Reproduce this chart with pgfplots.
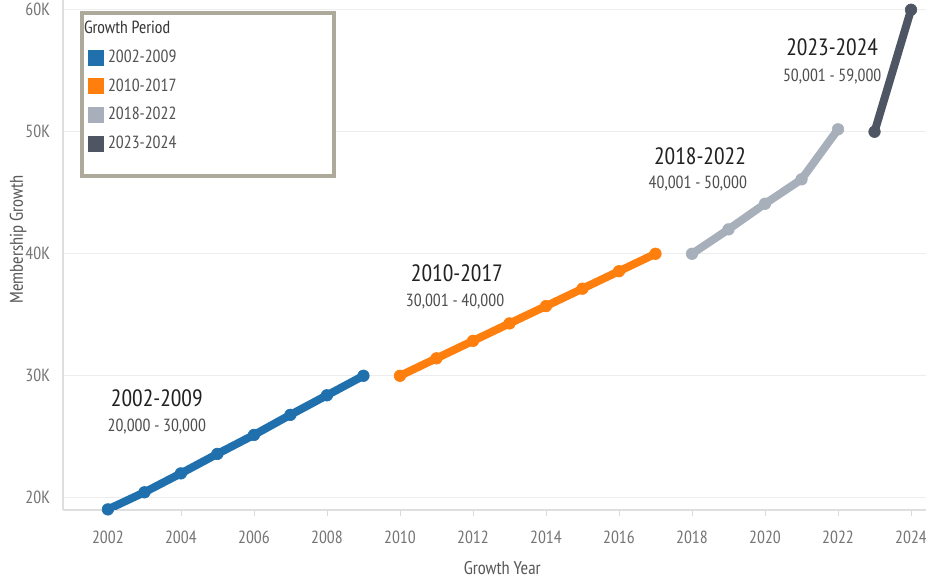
\documentclass[border=0pt]{standalone}
\usepackage{pgfplots}
\pgfplotsset{compat=1.18}
\usepackage{fontspec}
\setmainfont{PT Sans Narrow}

\definecolor{blueP}{HTML}{1F70AD}
\definecolor{orangeP}{HTML}{FF7F0E}
\definecolor{grayP}{HTML}{A7AFBA}
\definecolor{darkP}{HTML}{4E5663}
\definecolor{labelgray}{HTML}{666666}
\definecolor{annot}{HTML}{222222}
\definecolor{legendborder}{HTML}{ADA99B}

\begin{document}
\begin{tikzpicture}
\path[use as bounding box] (-31.5pt,-35.5pt) rectangle (431.5pt,255pt);
\begin{axis}[
    scale only axis,
    width=431.5pt,
    height=255pt,
    xmin=2000.77, xmax=2024.41,
    ymin=19000, ymax=60800,
    axis x line*=bottom,
    axis y line*=left,
    axis line style={draw=gray!25, line width=0.8pt},
    xtick={2002,2004,...,2024},
    xticklabels={2002,2004,2006,2008,2010,2012,2014,2016,2018,2020,2022,2024},
    ytick={20000,30000,40000,50000,60000},
    yticklabels={20K,30K,40K,50K,60K},
    tick label style={font=\fontsize{8.8}{10}\selectfont, text=labelgray!90},
    xticklabel style={yshift=-4pt},
    tick align=outside,
    major tick length=3pt,
    xtick style={draw=gray!30},
    ytick style={draw=none},
    ymajorgrids=true,
    grid style={draw=gray!14, line width=0.6pt},
    xlabel={Growth Year},
    ylabel={Membership Growth},
    label style={font=\fontsize{9.2}{10}\selectfont, text=annot!75},
    xlabel style={at={(axis description cs:0.509,-0.114)}, anchor=center},
    ylabel style={at={(axis description cs:-0.052,0.53)}, anchor=center, rotate=0},
    legend cell align=left,
    legend style={at={(rel axis cs:0.0197,0.978)}, anchor=north west,
        draw=legendborder, line width=2pt, fill=white,
        inner xsep=3pt, inner ysep=2pt, row sep=2.6pt,
        font=\fontsize{8.8}{10}\selectfont, text=labelgray!80!black},
    every axis plot/.append style={line width=4pt, mark=*, mark size=2.9pt,
        mark options={line width=0.3pt}},
]
\addlegendimage{empty legend}
\addlegendentry{\hspace*{-12pt}{\color{annot!90}Growth Period}}

\addplot[blueP,
    legend image code/.code={\path[fill=blueP, draw=none] (0pt,-4pt) rectangle (8pt,4pt);}]
    coordinates {
    (2002,19050) (2003,20450) (2004,22000) (2005,23600)
    (2006,25150) (2007,26800) (2008,28400) (2009,30000)
};
\addlegendentry{\makebox[108pt][l]{2002-2009}}

\addplot[orangeP,
    legend image code/.code={\path[fill=orangeP, draw=none] (0pt,-4pt) rectangle (8pt,4pt);}]
    coordinates {
    (2010,30000) (2011,31430) (2012,32860) (2013,34290)
    (2014,35710) (2015,37140) (2016,38570) (2017,40000)
};
\addlegendentry{2010-2017}

\addplot[grayP,
    legend image code/.code={\path[fill=grayP, draw=none] (0pt,-4pt) rectangle (8pt,4pt);}]
    coordinates {
    (2018,40000) (2019,42000) (2020,44100) (2021,46100) (2022,50200)
};
\addlegendentry{2018-2022}

\addplot[darkP,
    legend image code/.code={\path[fill=darkP, draw=none] (0pt,-4pt) rectangle (8pt,4pt);}]
    coordinates {
    (2023,50000) (2024,60000)
};
\addlegendentry{2023-2024}

\addlegendimage{empty legend}
\addlegendentry{}

% period annotations
\node[font=\fontsize{11.8}{13}\selectfont, text=annot] at (axis cs:2003.34,28180) {2002-2009};
\node[font=\fontsize{8.8}{10}\selectfont, text=annot!80] at (axis cs:2003.34,25800) {20,000 - 30,000};
\node[font=\fontsize{11.8}{13}\selectfont, text=annot] at (axis cs:2011.56,38420) {2010-2017};
\node[font=\fontsize{8.8}{10}\selectfont, text=annot!80] at (axis cs:2011.51,36050) {30,001 - 40,000};
\node[font=\fontsize{11.8}{13}\selectfont, text=annot] at (axis cs:2018.22,48010) {2018-2022};
\node[font=\fontsize{8.8}{10}\selectfont, text=annot!80] at (axis cs:2018.16,45720) {40,001 - 50,000};
\node[font=\fontsize{11.8}{13}\selectfont, text=annot] at (axis cs:2021.84,56950) {2023-2024};
\node[font=\fontsize{8.8}{10}\selectfont, text=annot!80] at (axis cs:2021.84,54490) {50,001 - 59,000};
\end{axis}
\end{tikzpicture}
\end{document}
